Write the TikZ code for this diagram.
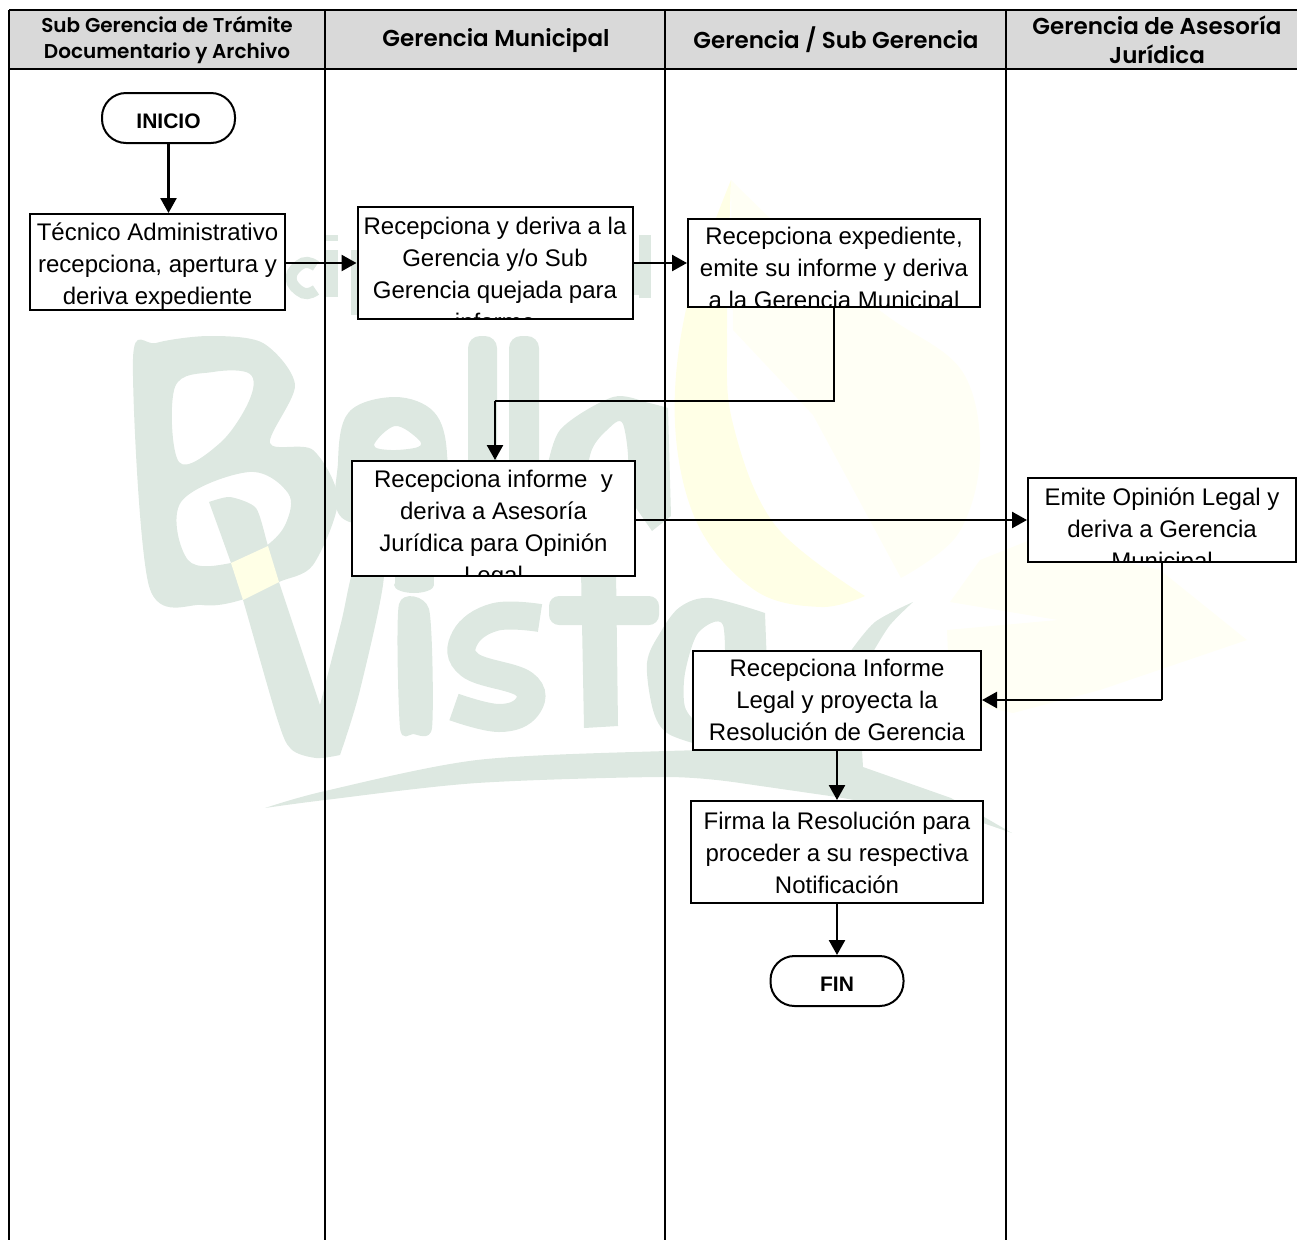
\documentclass[tikz,border=0pt]{standalone}
\usepackage{fontspec}
\setmainfont{Liberation Sans}
\newfontfamily\cabecera{Poppins}[BoldFont={Poppins SemiBold}]
\usetikzlibrary{arrows.meta}
\definecolor{verdemarca}{HTML}{DDE8E1}
\definecolor{amarillomarca}{HTML}{FFFFE6}
\definecolor{amarillotenue}{HTML}{FFFFF5}
\definecolor{grisfondo}{HTML}{D9D9D9}

\begin{document}
\begin{tikzpicture}[x=1pt,y=-1pt,
  linea/.style={line width=2pt},
  lineafina/.style={line width=1.6pt},
  flecha/.style={line width=2.5pt,-{Triangle[length=15pt,width=16pt]}},
  titulo/.style={font=\cabecera\bfseries\fontsize{23}{29}\selectfont,align=center,inner sep=0pt},
  titulomenor/.style={font=\cabecera\bfseries\fontsize{20}{26}\selectfont,align=center,inner sep=0pt},
  terminal/.style={draw,fill=white,line width=2pt,rounded corners=24pt,inner sep=0pt,text height=20pt,text depth=0pt,font=\bfseries\fontsize{21}{24}\selectfont},
  textocaja/.style={font=\fontsize{24}{32}\selectfont,align=center,inner sep=0pt},
  caja/.style 2 args={draw,fill=white,line width=2pt,inner sep=0pt,path picture={\node[textocaja,anchor=north] at ([yshift=#1]path picture bounding box.north) {#2};}}]
\useasboundingbox (0,0) rectangle (1297,1240);
\fill[grisfondo] (9,10) rectangle (1297,69);
\fill[amarillotenue] plot[smooth,tension=0.6] coordinates {(731,180) (821,266) (890,318) (962,371) (980,455) (958,534) (901,578)} -- (813,415) -- (733,330) -- cycle;
\fill[amarillomarca] plot[smooth,tension=0.6] coordinates {(731,180) (687,305) (675,424) (698,525) (756,591) (821,607) (865,596)} -- plot[smooth,tension=0.6] coordinates {(865,596) (775,525) (733,424) (727,336) (731,180)};
\fill[amarillotenue] (980,560) -- (950,602) -- (1058,620) -- (947,630) -- (950,700) -- (1013,713) -- (1100,690) -- (1247,640) -- (1160,570) -- (1030,540) -- cycle;
\draw[verdemarca,line width=11pt] plot[smooth,tension=0.8] coordinates {(316,266) (303,263) (291,278) (303,293) (316,290)};
\fill[verdemarca] (325,235) rectangle (338,241);
\fill[verdemarca] (325,250) rectangle (338,297);
\fill[verdemarca] (351,250) rectangle (358,315);
\fill[verdemarca] (639,235) rectangle (651,298);
\fill[verdemarca] (632,262) rectangle (640,295);
\fill[verdemarca,even odd rule] plot[smooth cycle,tension=0.5] coordinates {(133,359) (156,343) (209,336) (263,343) (295,385) (270,443) (313,450) (338,500) (313,565) (279,582) (241,600) (202,605) (149,586)}
  plot[smooth cycle,tension=0.6] coordinates {(175,387) (213,372) (250,374) (249,401) (220,443) (179,462)}
  plot[smooth cycle,tension=0.6] coordinates {(181,502) (249,472) (288,493) (286,523) (266,546) (231,563) (188,560)};
\fill[verdemarca] plot[smooth,tension=0.4] coordinates {(209,502) (230,497) (256,508) (268,546) (279,582) (320,705)} -- plot[smooth,tension=0.5] coordinates {(320,705) (341,623) (356,565) (384,573) (360,690) (340,755)} -- plot[smooth,tension=0.5] coordinates {(340,755) (316,758) (291,749) (277,718) (243,600) (231,563) (209,502)};
\fill[amarillomarca] (231,563) -- (268,546) -- (279,582) -- (243,600) -- cycle;
\fill[verdemarca,even odd rule] plot[smooth cycle,tension=0.6] coordinates {(338,462) (349,412) (395,397) (434,412) (447,454) (440,520) (345,520)}
  plot[smooth cycle,tension=0.6] coordinates {(374,445) (395,426) (418,439) (418,447) (391,450)};
\fill[verdemarca,rounded corners=12pt] (468,336) rectangle (497,480);
\fill[verdemarca,rounded corners=12pt] (509,336) rectangle (539,480);
\fill[verdemarca,even odd rule] plot[smooth,tension=0.5] coordinates {(545,480) (560,430) (613,397) (649,403) (668,408)} -- (671,516) -- (652,531) -- (636,508) -- (545,508) -- cycle
  plot[smooth cycle,tension=0.6] coordinates {(591,480) (591,452) (606,431) (623,424) (626,480)};
\fill[verdemarca] (395,570) rectangle (434,585);
\fill[verdemarca] (414,585) ellipse[x radius=20,y radius=8];
\fill[verdemarca] plot[smooth cycle,tension=0.4] coordinates {(399,604) (429,609) (432,728) (413,734) (400,728)};
\draw[verdemarca,line width=28pt] plot[smooth,tension=0.7] coordinates {(540,618) (495,617) (465,638) (470,665) (524,684) (527,707) (499,718) (454,707)};
\fill[verdemarca] (581,570) -- (616,570) -- (618,726) -- (584,728) -- cycle;
\fill[verdemarca,rounded corners=10pt] (549,596) rectangle (659,625);
\fill[verdemarca,even odd rule] plot[smooth,tension=0.55] coordinates {(765,613) (710,598) (680,607) (660,633) (647,663) (653,710) (667,733) (700,745)} -- (770,745) -- cycle
  plot[smooth cycle,tension=0.5] coordinates {(723,625) (698,633) (685,673) (685,707) (700,722) (722,700)};
\fill[verdemarca] plot[smooth,tension=0.5] coordinates {(850,652) (875,622) (913,602)} -- plot[smooth,tension=0.5] coordinates {(913,602) (890,625) (873,652)} -- cycle;
\fill[verdemarca] plot[smooth,tension=0.5] coordinates {(265,808) (325,791) (477,760) (666,751) (800,749)} -- (862,750) -- (863,767) -- (951,798) -- (1012,833) -- (980,822) -- (837,797) -- plot[smooth,tension=0.5] coordinates {(740,783) (666,777) (477,783) (325,800) (265,808)};
\draw[linea] (9,10) -- (1297,10);
\draw[linea] (9,69) -- (1297,69);
\draw[linea] (9,10) -- (9,1240);
\draw[linea] (325,10) -- (325,1240);
\draw[linea] (665,10) -- (665,1240);
\draw[linea] (1006,10) -- (1006,1240);
\node[titulomenor] (sgtramite) at (167,40) {Sub Gerencia de Trámite\\Documentario y Archivo};
\node[titulo] (gmunicipal) at (496,41) {Gerencia Municipal};
\node[titulo] (gsub) at (836,40) {Gerencia / Sub Gerencia};
\node[titulo] (gasesoria) at (1157,40) {Gerencia de Asesoría\\Jurídica};
\node[terminal,minimum width=133pt,minimum height=50pt] (inicio) at (168.5,118) {INICIO};
\node[caja={-3pt}{Técnico Administrativo\\recepciona, apertura y\\deriva expediente},minimum width=255pt,minimum height=96pt] (tecnico) at (157.5,262) {};
\node[caja={-9pt}{Recepciona y deriva a la\\Gerencia y/o Sub\\Gerencia quejada para\\informe},minimum width=275pt,minimum height=112pt] (queja) at (495,263) {};
\node[caja={-6pt}{Recepciona expediente,\\emite su informe y deriva\\a la Gerencia Municipal},minimum width=292pt,minimum height=88pt] (expediente) at (834,263) {};
\node[caja={-8pt}{Recepciona informe\ \ y\\deriva a Asesoría\\Jurídica para Opinión\\Legal},minimum width=283pt,minimum height=115pt] (informe) at (493.5,518.5) {};
\node[caja={-9pt}{Emite Opinión Legal y\\deriva a Gerencia\\Municipal},minimum width=268pt,minimum height=84pt] (opinion) at (1162,520) {};
\node[caja={1pt}{Recepciona Informe\\Legal y proyecta la\\Resolución de Gerencia},minimum width=288pt,minimum height=99pt] (proyecta) at (837,700) {};
\node[caja={0pt}{Firma la Resolución para\\proceder a su respectiva\\Notificación},minimum width=292pt,minimum height=102pt] (firma) at (837,852) {};
\node[terminal,minimum width=133pt,minimum height=50pt] (fin) at (837,981) {FIN};
\coordinate (codoa) at (495,401);
\coordinate (codob) at (opinion.south |- proyecta.east);
\draw[flecha] (inicio) -- (inicio |- tecnico.north);
\draw[flecha] (tecnico.east |- queja) -- (queja);
\draw[flecha] (queja) -- (expediente);
\draw[lineafina] (expediente.south) |- (codoa);
\draw[flecha] (codoa) -- (codoa |- informe.north);
\draw[flecha] (informe.east |- opinion) -- (opinion);
\draw[lineafina] (opinion.south) -- (codob);
\draw[flecha] (codob) -- (proyecta.east);
\draw[flecha] (proyecta) -- (firma);
\draw[flecha] (firma) -- (fin);
\end{tikzpicture}
\end{document}
